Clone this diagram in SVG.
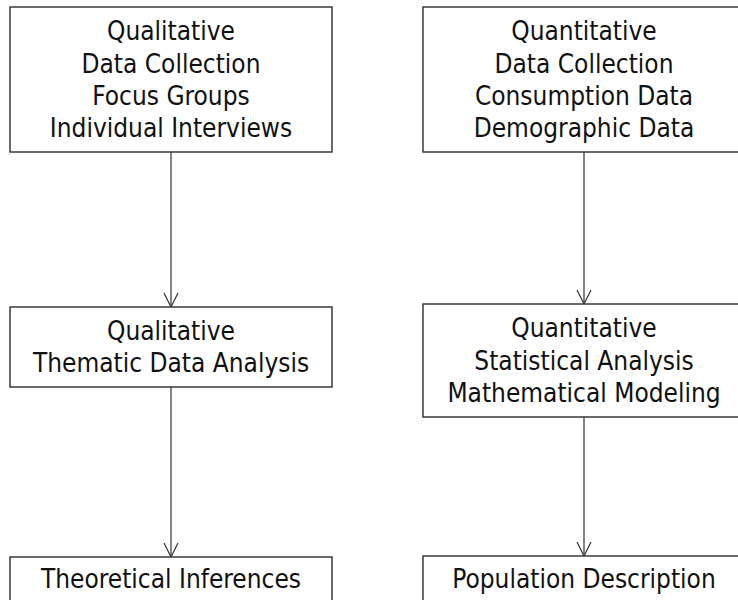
<svg xmlns="http://www.w3.org/2000/svg" width="738" height="600" viewBox="0 0 738 600">
  <defs>
    <style>
      .box { fill: #ffffff; stroke: #3a3a3a; stroke-width: 1.5; }
      .lbl { font-family: "DejaVu Sans Condensed", "DejaVu Sans", sans-serif; font-stretch: condensed; font-size: 26px; fill: #111111; text-anchor: middle; }
      .edge { stroke: #333333; stroke-width: 1.2; fill: none; }
    </style>
    <marker id="arrow" viewBox="0 0 16 16" refX="15" refY="8" markerWidth="16" markerHeight="16" markerUnits="userSpaceOnUse" orient="auto">
      <path d="M1,1 L15,8 L1,15" fill="none" stroke="#333333" stroke-width="1.2"/>
    </marker>
  </defs>
  <rect width="738" height="600" fill="#ffffff"/>

  <g id="connectors">
    <line class="edge" x1="171" y1="152" x2="171" y2="307" marker-end="url(#arrow)"/>
    <line class="edge" x1="171" y1="387" x2="171" y2="557" marker-end="url(#arrow)"/>
    <line class="edge" x1="584" y1="152" x2="584" y2="304" marker-end="url(#arrow)"/>
    <line class="edge" x1="584" y1="417" x2="584" y2="556" marker-end="url(#arrow)"/>
  </g>

  <g id="qual-collection">
    <rect class="box" x="10" y="7" width="322" height="145"/>
    <text class="lbl" x="171" y="40">Qualitative</text>
    <text class="lbl" x="171" y="73">Data Collection</text>
    <text class="lbl" x="171" y="105">Focus Groups</text>
    <text class="lbl" x="171" y="137">Individual Interviews</text>
  </g>

  <g id="quant-collection">
    <rect class="box" x="423" y="7" width="322" height="145"/>
    <text class="lbl" x="584" y="40">Quantitative</text>
    <text class="lbl" x="584" y="73">Data Collection</text>
    <text class="lbl" x="584" y="105">Consumption Data</text>
    <text class="lbl" x="584" y="137">Demographic Data</text>
  </g>

  <g id="qual-analysis">
    <rect class="box" x="10" y="307" width="322" height="80"/>
    <text class="lbl" x="171" y="340">Qualitative</text>
    <text class="lbl" x="171" y="372">Thematic Data Analysis</text>
  </g>

  <g id="quant-analysis">
    <rect class="box" x="423" y="304" width="322" height="113"/>
    <text class="lbl" x="584" y="337">Quantitative</text>
    <text class="lbl" x="584" y="370">Statistical Analysis</text>
    <text class="lbl" x="584" y="402">Mathematical Modeling</text>
  </g>

  <g id="theoretical-inferences">
    <rect class="box" x="10" y="557" width="322" height="60"/>
    <text class="lbl" x="171" y="588">Theoretical Inferences</text>
  </g>

  <g id="population-description">
    <rect class="box" x="423" y="556" width="322" height="60"/>
    <text class="lbl" x="584" y="588">Population Description</text>
  </g>
</svg>
